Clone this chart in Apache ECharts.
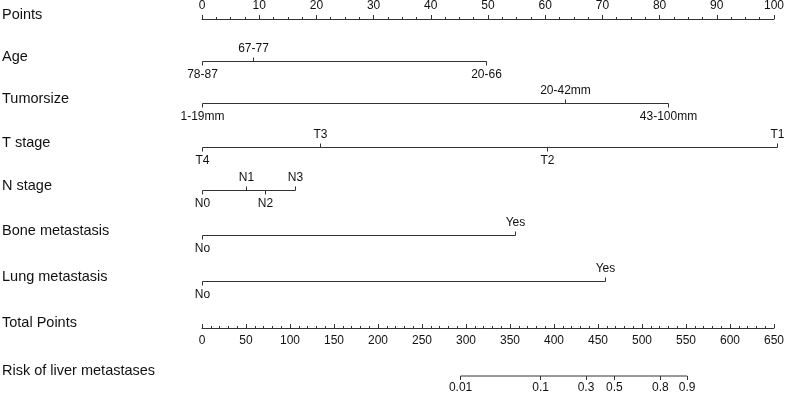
<!DOCTYPE html>
<html>
<head>
<meta charset="utf-8">
<script src="https://cdn.jsdelivr.net/npm/echarts@6.0.0/dist/echarts.min.js"></script>
<style>
html, body { margin: 0; padding: 0; background: #fff; }
#chart { width: 787px; height: 396px; }
</style>
</head>
<body>
<div id="chart"></div>
<script>
// row titles, top to bottom
const rowNames = ['Points', 'Age', 'Tumorsize', 'T stage', 'N stage',
    'Bone metastasis', 'Lung metastasis', 'Total Points', 'Risk of liver metastases'];

// levels of each predictor and their points (0-100 scale), sorted by points
const ageLevels = ['78-87', '67-77', '20-66'];
const agePoints = [0, 8.8, 49.4];
const tumorLevels = ['1-19mm', '20-42mm', '43-100mm'];
const tumorPoints = [0, 63.1, 81.0];
const tLevels = ['T4', 'T3', 'T2', 'T1'];
const tPoints = [0, 20.5, 60, 100];
const nLevels = ['N0', 'N1', 'N2', 'N3'];
const nPoints = [0, 7.7, 10.9, 16.2];
const boneLevels = ['No', 'Yes'];
const bonePoints = [0, 54.4];
const lungLevels = ['No', 'Yes'];
const lungPoints = [0, 70.1];

// risk scale: probabilities and where they sit on the total points axis
const riskLabels = ['0.01', '0.1', '0.3', '0.5', '0.8', '0.9'];
const riskTotalPoints = [292.3, 382.8, 434.1, 466.2, 518.2, 548.4];

// layout: y of each row's line (px)
const rowY = [19.5, 61.5, 103.5, 147.5, 190.5, 235.5, 281.5, 327.5, 375.5];

const font = '"Liberation Sans", Arial, sans-serif';
const lineColor = '#333';
const textColor = '#111';

function levelRow(row, levels, points) {
    return {
        type: 'custom',
        xAxisIndex: 0,
        yAxisIndex: 0,
        clip: false,
        silent: true,
        data: points.map((p, i) => [p, rowY[row], i]),
        renderItem: function (params, api) {
            const i = api.value(2);
            const c = api.coord([api.value(0), api.value(1)]);
            const x = Math.round(c[0]) + 0.5;
            const y = c[1];
            const dir = i % 2 ? -1 : 1;
            const kids = [
                {type: 'line', shape: {x1: x, y1: y, x2: x, y2: y + 4 * dir},
                    style: {stroke: lineColor, lineWidth: 1}},
                {type: 'text', style: {x: x, y: y + 13 * dir, text: levels[i], align: 'center',
                    verticalAlign: 'middle', fontSize: 12, fontFamily: font, fill: textColor}}
            ];
            if (i === 0) {
                const end = api.coord([points[points.length - 1], api.value(1)]);
                kids.push({type: 'line', shape: {x1: x, y1: y, x2: Math.round(end[0]) + 0.5, y2: y},
                    style: {stroke: lineColor, lineWidth: 1}});
            }
            return {type: 'group', children: kids};
        }
    };
}

const axisText = {fontSize: 12, fontFamily: font, color: textColor};

const chart = echarts.init(document.getElementById('chart'));
chart.setOption({
    animation: false,
    grid: [
        {left: 202, right: 10, top: 0, bottom: 0},          // predictor rows
        {left: 202, right: 10, top: 19, height: 10},        // Points axis
        {left: 202, right: 10, top: 318, height: 10},       // Total Points axis
        {left: 202, right: 10, top: 366, height: 10}        // Risk axis
    ],
    xAxis: [
        {gridIndex: 0, type: 'value', min: 0, max: 100, show: false},
        {gridIndex: 1, type: 'value', min: 0, max: 100, interval: 10, position: 'top',
            axisLine: {onZero: false, lineStyle: {color: lineColor, width: 1}},
            axisTick: {length: 4, lineStyle: {color: lineColor}},
            minorTick: {show: true, splitNumber: 4, length: 2, lineStyle: {color: lineColor}},
            axisLabel: Object.assign({margin: 7}, axisText),
            splitLine: {show: false}},
        {gridIndex: 2, type: 'value', min: 0, max: 650, interval: 50, position: 'bottom',
            axisLine: {onZero: false, lineStyle: {color: lineColor, width: 1}},
            axisTick: {inside: true, length: 4, lineStyle: {color: lineColor}},
            minorTick: {show: true, splitNumber: 5, length: 2, lineStyle: {color: lineColor}},
            axisLabel: Object.assign({margin: 7}, axisText),
            splitLine: {show: false}},
        {gridIndex: 3, type: 'value', min: 0, max: 650, position: 'bottom',
            axisLine: {show: false, onZero: false},
            axisTick: {length: 4, customValues: riskTotalPoints, lineStyle: {color: lineColor}},
            axisLabel: Object.assign({
                margin: 6,
                customValues: riskTotalPoints,
                formatter: function (v) {
                    const k = riskTotalPoints.findIndex(r => Math.abs(r - v) < 0.01);
                    return k >= 0 ? riskLabels[k] : '';
                }
            }, axisText),
            splitLine: {show: false}}
    ],
    yAxis: [
        {gridIndex: 0, type: 'value', min: 0, max: 396, inverse: true, show: false},
        {gridIndex: 1, type: 'value', min: 0, max: 1, show: false},
        {gridIndex: 2, type: 'value', min: 0, max: 1, show: false},
        {gridIndex: 3, type: 'value', min: 0, max: 1, show: false}
    ],
    graphic: rowNames.map((name, i) => ({
        type: 'text',
        x: 2,
        y: rowY[i] - 5,
        silent: true,
        style: {text: name, fontSize: 14.5, fontFamily: font, fill: textColor, verticalAlign: 'middle'}
    })),
    series: [
        levelRow(1, ageLevels, agePoints),
        levelRow(2, tumorLevels, tumorPoints),
        levelRow(3, tLevels, tPoints),
        levelRow(4, nLevels, nPoints),
        levelRow(5, boneLevels, bonePoints),
        levelRow(6, lungLevels, lungPoints),
        {
            type: 'line',
            xAxisIndex: 3,
            yAxisIndex: 3,
            clip: false,
            silent: true,
            symbol: 'none',
            lineStyle: {color: lineColor, width: 1},
            data: [[riskTotalPoints[0], 0], [riskTotalPoints[riskTotalPoints.length - 1], 0]]
        }
    ]
});
</script>
</body>
</html>
